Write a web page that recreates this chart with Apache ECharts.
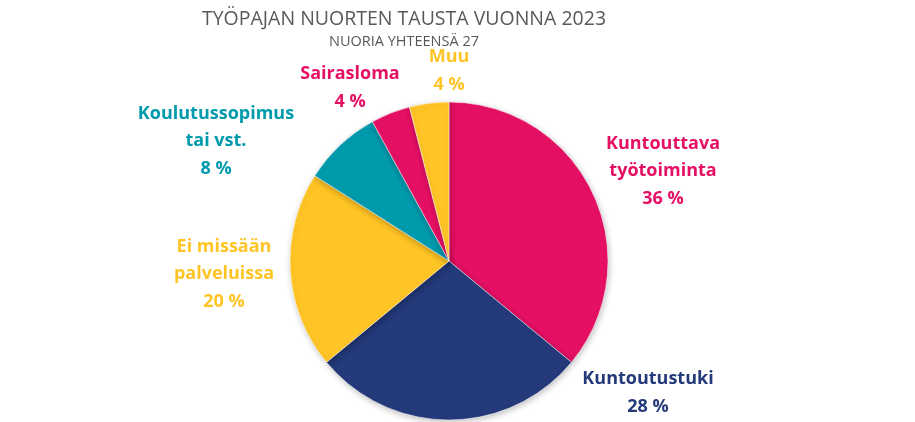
<!DOCTYPE html>
<html>
<head>
<meta charset="utf-8">
<script src="https://cdn.jsdelivr.net/npm/echarts@6/dist/echarts.min.js"></script>
<style>
html,body{margin:0;padding:0;background:#fff;}
#chart{width:915px;height:422px;}
</style>
</head>
<body>
<div id="chart"></div>
<script>
const categories = ['Kuntouttava\ntyötoiminta', 'Kuntoutustuki', 'Ei missään\npalveluissa', 'Koulutussopimus\ntai vst.', 'Sairasloma', 'Muu'];
const values = [36, 28, 20, 8, 4, 4];
const titleText = 'TYÖPAJAN NUORTEN TAUSTA VUONNA 2023';
const subtitleText = 'NUORIA YHTEENSÄ 27';

const colors = ['#E51064', '#243A7A', '#FFC425', '#009AAD', '#E51064', '#FFC425'];
// label anchor positions (layout only)
const labelPos = [[663, 171], [648, 393], [224, 274], [216, 141], [350, 88], [449, 71]];

const chart = echarts.init(document.getElementById('chart'));
const font = '"Open Sans", Lato, sans-serif';
chart.setOption({
  animation: false,
  title: {
    text: titleText,
    subtext: subtitleText,
    left: 399,
    textAlign: 'center',
    top: 4,
    itemGap: 5,
    textStyle: {fontFamily: font, fontSize: 19.5, fontWeight: 'normal', color: '#595959'},
    subtextStyle: {fontFamily: font, fontSize: 14.5, color: '#595959'}
  },
  series: [{
    type: 'pie',
    center: [449, 261],
    radius: 159,
    startAngle: 90,
    clockwise: true,
    data: categories.map((c, i) => ({name: c, value: values[i], itemStyle: {color: colors[i]}, label: {color: colors[i]}})),
    itemStyle: {borderColor: '#fff', borderWidth: 0.5, shadowBlur: 6, shadowColor: 'rgba(0,0,0,0.25)', shadowOffsetX: 1, shadowOffsetY: 2},
    label: {
      show: true,
      position: 'outside',
      formatter: p => p.name + '\n' + p.value + ' %',
      fontFamily: font,
      fontSize: 18,
      fontWeight: 'bold',
      lineHeight: 27.5,
      align: 'center'
    },
    labelLine: {show: false},
    labelLayout: function (params) {
      const p = labelPos[params.dataIndex];
      return {x: p[0], y: p[1], align: 'center', verticalAlign: 'middle'};
    }
  }]
});
</script>
</body>
</html>
